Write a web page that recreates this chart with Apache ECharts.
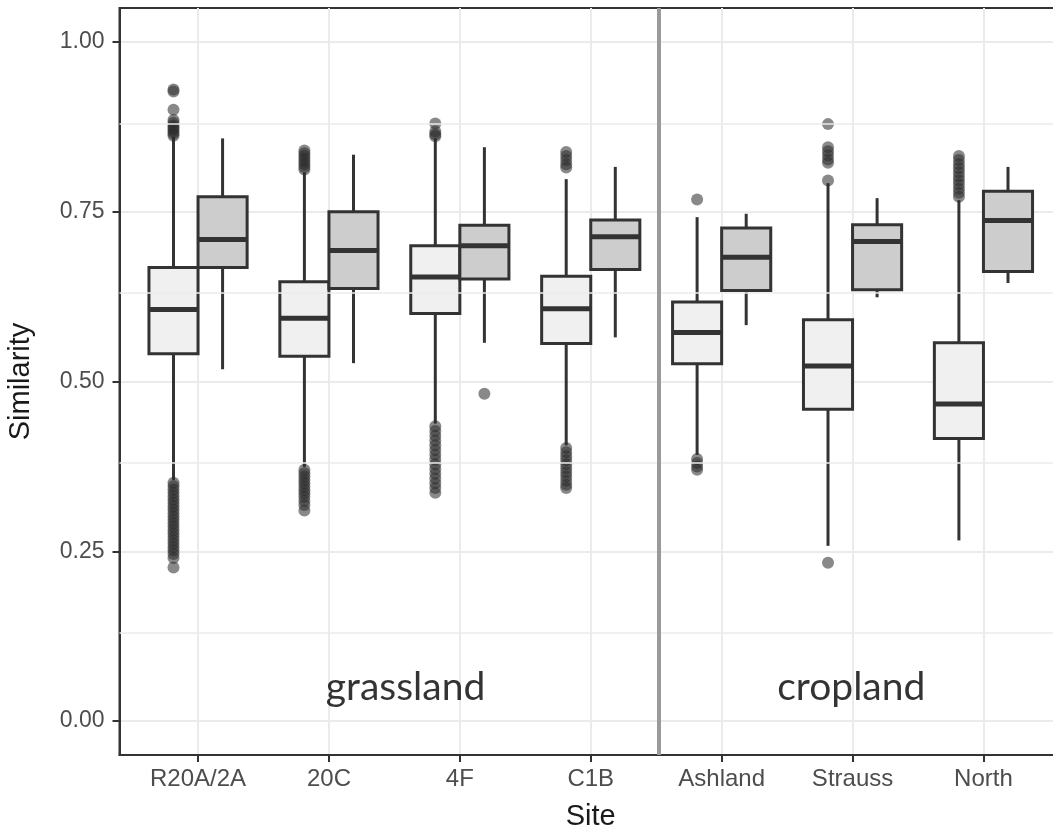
<!DOCTYPE html>
<html>
<head>
<meta charset="utf-8">
<script src="https://cdn.jsdelivr.net/npm/echarts@6/dist/echarts.min.js"></script>
<style>
html,body{margin:0;padding:0;background:#fff;}
#chart{width:1053px;height:832px;}
</style>
</head>
<body>
<div id="chart"></div>
<script>
// ---------- DATA ----------
const categories = ['R20A/2A', '20C', '4F', 'C1B', 'Ashland', 'Strauss', 'North'];
const yTicks = [0, 0.25, 0.5, 0.75, 1.0];
const yMinorTicks = [0.125, 0.375, 0.625, 0.875];

// [lower whisker, Q1, median, Q3, upper whisker] — light (left) boxes
const lightBoxes = [
  [0.355, 0.541, 0.606, 0.668, 0.860],
  [0.374, 0.537, 0.593, 0.647, 0.808],
  [0.438, 0.600, 0.654, 0.700, 0.858],
  [0.406, 0.556, 0.607, 0.655, 0.798],
  [0.392, 0.526, 0.572, 0.617, 0.742],
  [0.258, 0.459, 0.523, 0.591, 0.792],
  [0.266, 0.416, 0.467, 0.557, 0.767]
];
// darker (right) boxes
const darkBoxes = [
  [0.518, 0.668, 0.709, 0.772, 0.858],
  [0.527, 0.637, 0.693, 0.750, 0.834],
  [0.557, 0.651, 0.700, 0.730, 0.845],
  [0.565, 0.665, 0.713, 0.738, 0.816],
  [0.583, 0.634, 0.683, 0.726, 0.747],
  [0.624, 0.635, 0.706, 0.731, 0.770],
  [0.645, 0.662, 0.737, 0.780, 0.816]
];
// outliers per category
const lightOutliers = [
  [0.930, 0.927, 0.900, 0.885, 0.881, 0.877, 0.874, 0.871, 0.868, 0.865, 0.862,
   0.351, 0.346, 0.341, 0.336, 0.331, 0.326, 0.321, 0.316, 0.311, 0.306, 0.301, 0.296, 0.291,
   0.286, 0.281, 0.276, 0.271, 0.266, 0.261, 0.256, 0.251, 0.246, 0.240, 0.226],
  [0.840, 0.836, 0.832, 0.828, 0.824, 0.820, 0.816, 0.812,
   0.370, 0.365, 0.360, 0.355, 0.350, 0.345, 0.340, 0.335, 0.330, 0.324, 0.318, 0.310],
  [0.880, 0.868, 0.864, 0.861,
   0.434, 0.427, 0.420, 0.413, 0.406, 0.399, 0.392, 0.385, 0.378, 0.371, 0.364, 0.357, 0.350, 0.343, 0.336],
  [0.838, 0.832, 0.826, 0.820, 0.815,
   0.402, 0.396, 0.390, 0.384, 0.378, 0.372, 0.366, 0.360, 0.354, 0.348, 0.343],
  [0.768, 0.386, 0.380, 0.375, 0.370],
  [0.879, 0.845, 0.839, 0.833, 0.827, 0.822, 0.796, 0.233],
  [0.832, 0.826, 0.820, 0.814, 0.808, 0.802, 0.796, 0.790, 0.784, 0.778, 0.772]
];
const darkOutliers = [[], [], [0.482], [], [], [], []];

const annotationTexts = ['grassland', 'cropland'];

// ---------- CHART ----------
const HALF = 0.1875; // half box width in category units (ggplot dodge 0.75)
const chart = echarts.init(document.getElementById('chart'), null, {renderer: 'canvas'});

function boxSeries(name, boxes, dodge, fill) {
  return {
    name: name,
    type: 'custom',
    z: 3,
    data: boxes.map((b, i) => [i + 1].concat(b)),
    encode: {x: 0, y: [1, 2, 3, 4, 5]},
    renderItem: function (params, api) {
      const xc = api.value(0) + dodge;
      const lo = api.value(1), q1 = api.value(2), med = api.value(3), q3 = api.value(4), hi = api.value(5);
      const pTL = api.coord([xc - HALF, q3]);
      const pBR = api.coord([xc + HALF, q1]);
      const cx = api.coord([xc, med])[0];
      const yLo = api.coord([xc, lo])[1];
      const yHi = api.coord([xc, hi])[1];
      const yMed = api.coord([xc, med])[1];
      const stroke = '#333333';
      return {
        type: 'group',
        children: [
          {type: 'line', shape: {x1: cx, y1: yHi, x2: cx, y2: pTL[1]}, style: {stroke: stroke, lineWidth: 3}},
          {type: 'line', shape: {x1: cx, y1: pBR[1], x2: cx, y2: yLo}, style: {stroke: stroke, lineWidth: 3}},
          {type: 'rect', shape: {x: pTL[0], y: pTL[1], width: pBR[0] - pTL[0], height: pBR[1] - pTL[1]},
            style: {fill: fill, stroke: stroke, lineWidth: 3}},
          {type: 'line', shape: {x1: pTL[0], y1: yMed, x2: pBR[0], y2: yMed}, style: {stroke: stroke, lineWidth: 5}}
        ]
      };
    }
  };
}

function outlierSeries(name, outs, dodge) {
  const data = [];
  outs.forEach((vals, i) => vals.forEach(v => data.push([i + 1 + dodge, v])));
  return {
    name: name,
    type: 'scatter',
    z: 4,
    symbol: 'circle',
    symbolSize: 12,
    itemStyle: {color: 'rgba(45,45,45,0.7)'},
    data: data,
    silent: true
  };
}

const option = {
  animation: false,
  backgroundColor: '#ffffff',
  grid: {
    left: 119.5, top: 8, width: 942.5, bottom: 77,
    show: true, backgroundColor: '#ffffff', borderColor: '#333333', borderWidth: 2,
    containLabel: false,
    outerBoundsMode: 'none'
  },
  xAxis: {
    type: 'value',
    min: 0.4, max: 7.6,
    name: 'Site',
    nameLocation: 'middle',
    nameGap: 47,
    nameTextStyle: {fontFamily: 'Liberation Sans', fontSize: 29, color: '#1a1a1a'},
    axisLine: {show: true, onZero: false, lineStyle: {color: '#333333', width: 2}},
    axisTick: {show: true, length: 7, lineStyle: {color: '#333333', width: 2}, customValues: [1, 2, 3, 4, 5, 6, 7]},
    axisLabel: {
      customValues: [1, 2, 3, 4, 5, 6, 7],
      margin: 12,
      fontFamily: 'Liberation Sans', fontSize: 24, color: '#4d4d4d',
      formatter: v => categories[Math.round(v) - 1] || ''
    },
    splitLine: {show: true, lineStyle: {color: '#ebebeb', width: 2}}
  },
  yAxis: {
    type: 'value',
    min: -0.05, max: 1.05,
    name: 'Similarity',
    nameLocation: 'middle',
    nameGap: 84,
    nameTextStyle: {fontFamily: 'Liberation Sans', fontSize: 29, color: '#1a1a1a'},
    axisLine: {show: true, lineStyle: {color: '#333333', width: 2}},
    axisTick: {show: true, length: 7, lineStyle: {color: '#333333', width: 2}, customValues: yTicks},
    axisLabel: {
      customValues: yTicks,
      margin: 15,
      fontFamily: 'Liberation Sans', fontSize: 23, color: '#4d4d4d',
      formatter: v => v.toFixed(2)
    },
    splitLine: {show: true, lineStyle: {color: '#ebebeb', width: 2}}
  },
  series: [
    {
      name: 'guides',
      type: 'line',
      data: [],
      silent: true,
      z: 1,
      markLine: {
        silent: true,
        symbol: 'none',
        label: {show: false},
        animation: false,
        lineStyle: {color: '#ebebeb', width: 1.5, type: 'solid'},
        data: yMinorTicks.map(v => ({yAxis: v}))
      }
    },
    boxSeries('light', lightBoxes, -HALF, '#f0f0f0'),
    boxSeries('dark', darkBoxes, HALF, '#cdcdcd'),
    outlierSeries('light outliers', lightOutliers, -HALF),
    outlierSeries('dark outliers', darkOutliers, HALF),
    {
      name: 'separator',
      type: 'line',
      data: [],
      silent: true,
      z: 5,
      markLine: {
        silent: true,
        symbol: 'none',
        label: {show: false},
        animation: false,
        lineStyle: {color: '#9a9a9a', width: 4, type: 'solid'},
        data: [{xAxis: 4.52}]
      }
    },
    {
      name: 'labels',
      type: 'scatter',
      symbolSize: 0,
      silent: true,
      z: 6,
      data: [
        {value: [2.585, 0.049], name: annotationTexts[0]},
        {value: [5.99, 0.049], name: annotationTexts[1]}
      ],
      label: {
        show: true,
        position: 'inside',
        formatter: p => p.name,
        fontFamily: 'Lato',
        fontSize: 39,
        color: '#000000'
      }
    }
  ]
};
chart.setOption(option);
</script>
</body>
</html>
